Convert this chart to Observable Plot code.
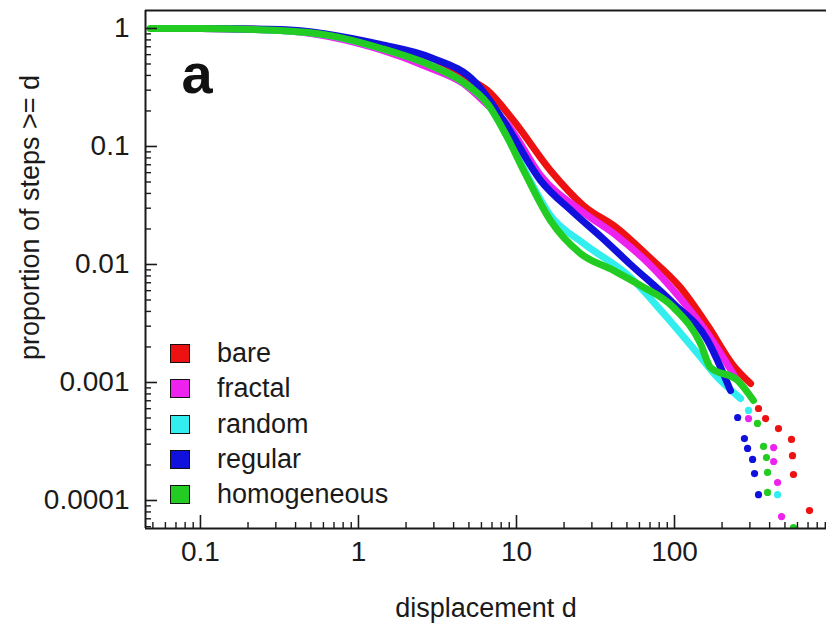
<!DOCTYPE html>
<html><head><meta charset="utf-8">
<script src="https://cdn.jsdelivr.net/npm/d3@7"></script>
<script src="https://cdn.jsdelivr.net/npm/@observablehq/plot@0.6"></script>
<style>
body{margin:0;background:#fff;font-family:"Liberation Sans",Arial,sans-serif;}
#wrap{position:relative;width:826px;height:640px;}
#legend{position:absolute;left:170px;top:336px;}
.item{display:flex;align-items:center;height:35.3px;font-size:27px;color:#1a1a1a;}
.sw{width:20px;height:19px;border:1.5px solid #111;box-sizing:border-box;margin-right:27px;}
</style></head>
<body><div id="wrap"><div id="legend"></div></div>
<script>
// series
const seriesNames = ["bare", "fractal", "random", "regular", "homogeneous"];
const seriesColors = ["#ee1111", "#ee22ee", "#33eeee", "#1111dd", "#22cc22"];

// dense part of each curve (displacement d, proportion)
const bareD = [0.055, 0.1, 0.32, 1.38, 2.86, 4.62, 6.55, 9.57, 16.4, 26.5, 43.6, 67.5, 109, 162, 236, 303];
const bareP = [1, 1, 0.97, 0.7, 0.51, 0.39, 0.298, 0.166, 0.0626, 0.0316, 0.0202, 0.0119, 0.00638, 0.00304, 0.00139, 0.00098];
const fractalD = [0.06, 0.1, 0.32, 1.38, 2.86, 4.62, 6.55, 8.9, 14.2, 26.5, 43.6, 67.5, 109, 162, 243];
const fractalP = [1, 1, 0.96, 0.66, 0.46, 0.34, 0.225, 0.15, 0.0568, 0.0276, 0.0173, 0.0104, 0.00515, 0.0026, 0.0011];
const randomD = [0.05, 0.1, 0.32, 0.665, 1.38, 2.86, 4.62, 6.55, 8.77, 11.1, 16.4, 26.5, 52.7, 85.2, 140, 182, 262];
const randomP = [1, 1, 0.96, 0.87, 0.68, 0.49, 0.35, 0.232, 0.12, 0.0651, 0.026, 0.0151, 0.00776, 0.00385, 0.00176, 0.00115, 0.000732];
const regularD = [0.058, 0.1, 0.32, 1.38, 2.86, 5.5, 8.27, 14.2, 22.9, 34, 52.7, 98.6, 162, 196, 226];
const regularP = [1, 1, 0.98, 0.732, 0.568, 0.349, 0.166, 0.0515, 0.0276, 0.0173, 0.01, 0.00467, 0.00227, 0.00134, 0.000855];
const homogeneousD = [0.048, 0.1, 0.32, 0.665, 1.38, 2.86, 4.62, 6.55, 8.77, 11.1, 16.4, 25.4, 41.1, 60.9, 98.6, 146, 169, 251, 316];
const homogeneousP = [1, 1, 0.96, 0.87, 0.68, 0.486, 0.349, 0.231, 0.119, 0.0626, 0.0236, 0.0124, 0.0089, 0.00664, 0.00432, 0.00214, 0.00134, 0.00104, 0.000704];

// sparse tail points
const bareTailD = [340, 377, 455, 550, 558, 566, 715];
const bareTailP = [0.000602, 0.000495, 0.000407, 0.000329, 0.00024, 0.000166, 0.0000822];
const fractalTailD = [294, 424, 424, 449, 476];
const fractalTailP = [0.000495, 0.000281, 0.000214, 0.000142, 0.0000731];
const randomTailD = [294, 449];
const randomTailP = [0.00058, 0.000112];
const regularTailD = [251, 277, 290, 312, 321, 340];
const regularTailP = [0.000505, 0.000335, 0.000276, 0.000223, 0.000169, 0.000112];
const homogeneousTailD = [335, 366, 382, 388, 388, 566];
const homogeneousTailP = [0.00045, 0.000287, 0.000231, 0.000173, 0.000117, 0.000059];

// axes
const xMajor = [0.1, 1, 10, 100];
const yMajor = [1, 0.1, 0.01, 0.001, 0.0001];
const xDomain = [0.0449, 916];
const yDomain = [0.0000579, 1.42];

const lineD = [bareD, fractalD, randomD, regularD, homogeneousD];
const lineP = [bareP, fractalP, randomP, regularP, homogeneousP];
const tailD = [bareTailD, fractalTailD, randomTailD, regularTailD, homogeneousTailD];
const tailP = [bareTailP, fractalTailP, randomTailP, regularTailP, homogeneousTailP];

const lineRows = seriesNames.flatMap((s, i) => lineD[i].map((d, j) => ({series: s, d, p: lineP[i][j]})));
const tailRows = seriesNames.flatMap((s, i) => tailD[i].map((d, j) => ({series: s, d, p: tailP[i][j]})));

const minorTicks = ([lo, hi]) => {
  const out = [];
  for (let e = -6; e <= 3; e++) for (let k = 2; k <= 9; k++) {
    const v = k * Math.pow(10, e);
    if (v > lo && v < hi) out.push(v);
  }
  return out;
};
const xMinor = minorTicks(xDomain);
const yMinor = minorTicks(yDomain);

const W = 826, H = 640, mL = 145, mT = 10, mB = 112, mR = 0;
const fh = H - mT - mB, fw = W - mL - mR;
const ink = "#1a1a1a";

const chart = Plot.plot({
  width: W, height: H,
  marginLeft: mL, marginTop: mT, marginBottom: mB, marginRight: mR,
  style: {fontFamily: "'Liberation Sans', Arial, sans-serif", color: ink, background: "#fff"},
  x: {type: "log", domain: xDomain},
  y: {type: "log", domain: yDomain},
  color: {domain: seriesNames, range: seriesColors},
  marks: [
    Plot.line(lineRows, {x: "d", y: "p", z: "series", stroke: "series", strokeWidth: 7, strokeLinecap: "round", strokeLinejoin: "round", curve: "monotone-x", clip: true}),
    Plot.dot(tailRows, {x: "d", y: "p", fill: "series", r: 3.6, clip: true}),
    // frame: left, bottom, top
    Plot.ruleX([xDomain[0]], {stroke: ink, strokeWidth: 2}),
    Plot.ruleY([yDomain[0]], {stroke: ink, strokeWidth: 2}),
    Plot.ruleY([yDomain[1]], {stroke: ink, strokeWidth: 2}),
    // inward ticks
    Plot.tickX(xMajor, {x: d => d, stroke: ink, strokeWidth: 1.6, insetTop: fh - 13}),
    Plot.tickX(xMinor, {x: d => d, stroke: ink, strokeWidth: 1.4, insetTop: fh - 6}),
    Plot.tickY(yMajor, {y: d => d, stroke: ink, strokeWidth: 1.6, insetRight: fw - 12}),
    Plot.tickY(yMinor, {y: d => d, stroke: ink, strokeWidth: 1.4, insetRight: fw - 6}),
    Plot.axisX(xMajor, {tickSize: 0, tickPadding: 13, fontSize: 28, tickFormat: d => String(d), label: null}),
    Plot.axisY(yMajor, {tickSize: 0, tickPadding: 16, fontSize: 28, tickFormat: d => String(d), label: null}),
    Plot.text(["displacement d"], {frameAnchor: "bottom", dy: 80, lineAnchor: "middle", textAnchor: "middle", fontSize: 27, fill: ink}),
    Plot.text(["proportion of steps >= d"], {frameAnchor: "left", rotate: -90, dx: -115, dy: -52, textAnchor: "middle", lineAnchor: "middle", fontSize: 27, fill: ink}),
    Plot.text(["a"], {frameAnchor: "top-left", dx: 36, dy: 82, lineAnchor: "bottom", textAnchor: "start", fontSize: 56, fontWeight: "bold", fill: "#111"})
  ]
});
document.getElementById("wrap").prepend(chart);

const legend = document.getElementById("legend");
seriesNames.forEach((s, i) => {
  const it = document.createElement("div");
  it.className = "item";
  const sw = document.createElement("div");
  sw.className = "sw";
  sw.style.background = seriesColors[i];
  const lab = document.createElement("span");
  lab.textContent = s;
  it.append(sw, lab);
  legend.append(it);
});
</script>
</body></html>
